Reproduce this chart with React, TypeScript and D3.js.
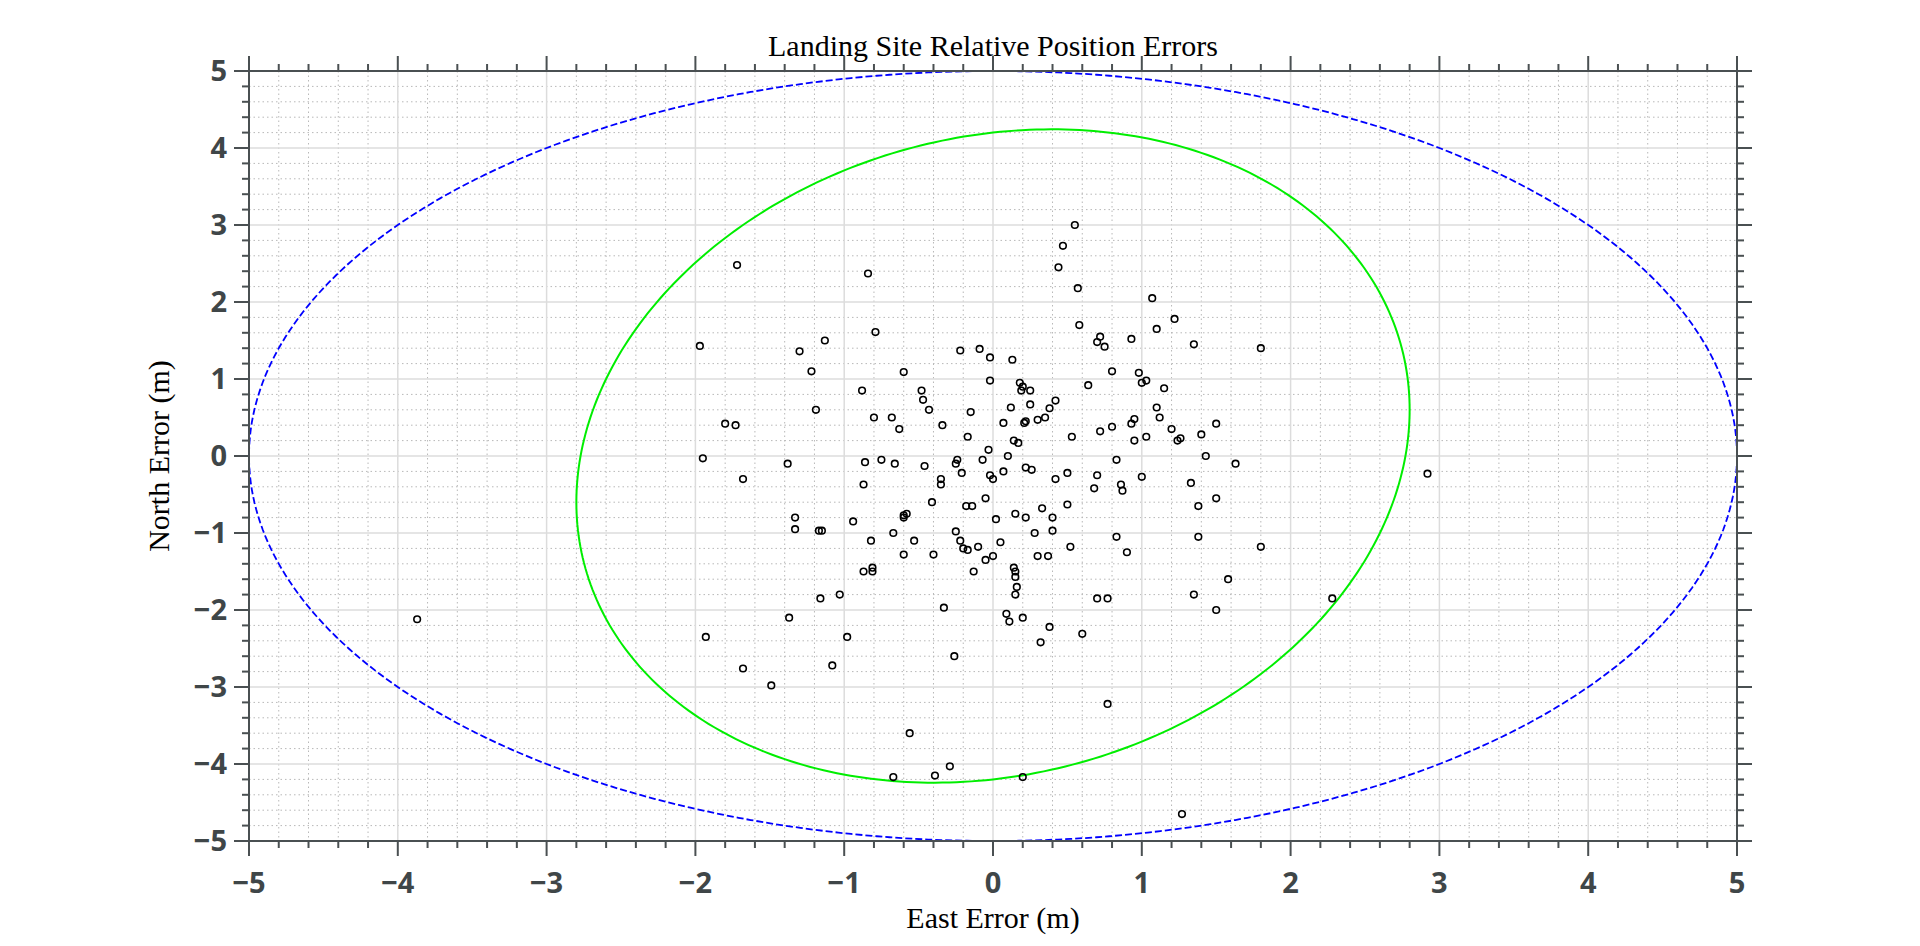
import React, { useEffect, useRef } from "react";
import * as d3 from "d3";

// landing points [east, north] in metres
const points: [number, number][] = [
  [-3.87, -2.12], [-1.97, 1.43], [-1.95, -0.03], [-1.93, -2.35], [-1.8, 0.42], [-1.73, 0.4],
  [-1.72, 2.48], [-1.68, -0.3], [-1.68, -2.76], [-1.49, -2.98], [-1.38, -0.1], [-1.37, -2.1],
  [-1.33, -0.8], [-1.33, -0.95], [-1.3, 1.36], [-1.22, 1.1], [-1.19, 0.6], [-1.17, -0.97],
  [-1.15, -0.97], [-1.16, -1.85], [-1.13, 1.5], [-1.08, -2.72], [-1.03, -1.8], [-0.98, -2.35],
  [-0.94, -0.85], [-0.88, 0.85], [-0.86, -0.08], [-0.87, -0.37], [-0.87, -1.5], [-0.84, 2.37],
  [-0.82, -1.1], [-0.81, -1.45], [-0.81, -1.5], [-0.79, 1.61], [-0.8, 0.5], [-0.75, -0.05],
  [-0.68, 0.5], [-0.67, -1.0], [-0.67, -4.17], [-0.66, -0.1], [-0.63, 0.35], [-0.6, 1.09],
  [-0.6, -0.77], [-0.6, -0.8], [-0.58, -0.75], [-0.6, -1.28], [-0.56, -3.6], [-0.53, -1.1],
  [-0.48, 0.85], [-0.47, 0.73], [-0.46, -0.13], [-0.43, 0.6], [-0.4, -1.28], [-0.41, -0.6],
  [-0.39, -4.15], [-0.35, -0.3], [-0.35, -0.37], [-0.34, 0.4], [-0.33, -1.97], [-0.29, -4.03],
  [-0.26, -2.6], [-0.25, -0.1], [-0.25, -0.98], [-0.24, -0.05], [-0.22, 1.37], [-0.22, -1.1],
  [-0.21, -0.22], [-0.2, -1.2], [-0.18, -0.65], [-0.17, 0.25], [-0.17, -1.22], [-0.15, 0.57],
  [-0.14, -0.65], [-0.13, -1.5], [-0.1, -1.18], [-0.09, 1.39], [-0.07, -0.05], [-0.05, -0.55],
  [-0.05, -1.35], [-0.03, 0.08], [-0.02, 1.28], [-0.02, 0.98], [0.0, -1.3], [0.0, -0.3],
  [-0.02, -0.25], [0.02, -0.82], [0.05, -1.12], [0.07, -0.2], [0.07, 0.43], [0.09, -2.05],
  [0.1, 0.0], [0.11, -2.15], [0.12, 0.63], [0.13, 1.25], [0.14, 0.2], [0.15, -0.75],
  [0.14, -1.45], [0.15, -1.5], [0.15, -1.57], [0.16, -1.7], [0.15, -1.8], [0.17, 0.17],
  [0.18, 0.95], [0.19, 0.85], [0.2, 0.9], [0.2, -2.1], [0.2, -4.17], [0.21, 0.43],
  [0.22, -0.8], [0.22, 0.45], [0.22, -0.15], [0.25, 0.85], [0.26, -0.18], [0.25, 0.67],
  [0.28, -1.0], [0.3, -1.3], [0.3, 0.47], [0.32, -2.42], [0.33, -0.68], [0.35, 0.5],
  [0.37, -1.3], [0.38, -2.22], [0.38, 0.62], [0.4, -0.97], [0.4, -0.8], [0.42, -0.3],
  [0.42, 0.72], [0.44, 2.45], [0.47, 2.73], [0.5, -0.22], [0.5, -0.63], [0.52, -1.18],
  [0.53, 0.25], [0.55, 3.0], [0.57, 2.18], [0.58, 1.7], [0.6, -2.31], [0.64, 0.92],
  [0.68, -0.42], [0.7, 1.48], [0.7, -1.85], [0.7, -0.25], [0.72, 1.55], [0.72, 0.32],
  [0.75, 1.42], [0.77, -1.85], [0.77, -3.22], [0.8, 0.38], [0.8, 1.1], [0.83, -0.05],
  [0.83, -1.05], [0.86, -0.37], [0.87, -0.45], [0.9, -1.25], [0.93, 0.42], [0.93, 1.52],
  [0.95, 0.48], [0.95, 0.2], [0.98, 1.08], [1.0, 0.95], [1.0, -0.27], [1.03, 0.25],
  [1.03, 0.98], [1.07, 2.05], [1.1, 0.63], [1.1, 1.65], [1.12, 0.5], [1.15, 0.88],
  [1.2, 0.35], [1.22, 1.78], [1.24, 0.2], [1.26, 0.23], [1.27, -4.65], [1.33, -0.35],
  [1.35, 1.45], [1.35, -1.8], [1.38, -0.65], [1.38, -1.05], [1.4, 0.28], [1.43, 0.0],
  [1.5, 0.42], [1.5, -0.55], [1.5, -2.0], [1.58, -1.6], [1.63, -0.1], [1.8, 1.4],
  [1.8, -1.18], [2.28, -1.85], [2.92, -0.23],
];

// required circle (blue) and error ellipse (green) as [xx, xy, yx, yy] matrix
const requirementRadius = 5;
const ellipseMatrix = [2.8, 0.0, 0.6, 4.2];

const majorTicks = d3.range(-5, 5.01, 1);
const minorTicks = d3.range(-5, 5.01, 0.2).filter((v) => Math.abs(v - Math.round(v)) > 0.01);

const App: React.FC = () => {
  const svgRef = useRef<SVGSVGElement | null>(null);

  useEffect(() => {
    const width = 1904;
    const height = 930;
    const margin = { top: 63, right: 175, bottom: 97, left: 241 };
    const axisColor = "#4a5052";

    const x = d3.scaleLinear().domain([-5, 5]).range([margin.left, width - margin.right]);
    const y = d3.scaleLinear().domain([-5, 5]).range([height - margin.bottom, margin.top]);

    const svg = d3.select(svgRef.current).attr("width", width).attr("height", height);
    svg.selectAll("*").remove();

    const x0 = x(-5), x1 = x(5), y0 = y(-5), y1 = y(5);
    const grid = svg.append("g");

    // minor grid
    grid.selectAll(".mx").data(minorTicks).enter().append("line")
      .attr("x1", (d) => x(d)).attr("x2", (d) => x(d)).attr("y1", y1).attr("y2", y0)
      .attr("stroke", "#b8b8b8").attr("stroke-width", 1).attr("stroke-dasharray", "1.5,3");
    grid.selectAll(".my").data(minorTicks).enter().append("line")
      .attr("y1", (d) => y(d)).attr("y2", (d) => y(d)).attr("x1", x0).attr("x2", x1)
      .attr("stroke", "#b8b8b8").attr("stroke-width", 1).attr("stroke-dasharray", "1.5,3");
    // major grid
    grid.selectAll(".Mx").data(majorTicks).enter().append("line")
      .attr("x1", (d) => x(d)).attr("x2", (d) => x(d)).attr("y1", y1).attr("y2", y0)
      .attr("stroke", "#dcdcdc").attr("stroke-width", 1.5);
    grid.selectAll(".My").data(majorTicks).enter().append("line")
      .attr("y1", (d) => y(d)).attr("y2", (d) => y(d)).attr("x1", x0).attr("x2", x1)
      .attr("stroke", "#dcdcdc").attr("stroke-width", 1.5);

    // ellipses
    const ts = d3.range(0, 2 * Math.PI + 0.001, Math.PI / 180);
    const line = d3.line<[number, number]>().x((d) => x(d[0])).y((d) => y(d[1]));
    svg.append("path")
      .attr("d", line(ts.map((t) => [requirementRadius * Math.cos(t), requirementRadius * Math.sin(t)])))
      .attr("fill", "none").attr("stroke", "#0000ff").attr("stroke-width", 1.8)
      .attr("stroke-dasharray", "7,3");
    const [a, b, c, e] = ellipseMatrix;
    svg.append("path")
      .attr("d", line(ts.map((t) => [a * Math.cos(t) + b * Math.sin(t), c * Math.cos(t) + e * Math.sin(t)])))
      .attr("fill", "none").attr("stroke", "#00ee00").attr("stroke-width", 2);

    // points
    svg.append("g").selectAll("circle").data(points).enter().append("circle")
      .attr("cx", (d) => x(d[0])).attr("cy", (d) => y(d[1])).attr("r", 3.3)
      .attr("fill", "none").attr("stroke", "black").attr("stroke-width", 1.6);

    // axes, ticks outward on all sides
    const ax = svg.append("g").attr("stroke", axisColor).attr("stroke-width", 2);
    ax.append("rect").attr("x", x0).attr("y", y1).attr("width", x1 - x0).attr("height", y0 - y1)
      .attr("fill", "none");
    const tick = (vals: number[], len: number) => {
      vals.forEach((v) => {
        ax.append("line").attr("x1", x(v)).attr("x2", x(v)).attr("y1", y0).attr("y2", y0 + len);
        ax.append("line").attr("x1", x(v)).attr("x2", x(v)).attr("y1", y1).attr("y2", y1 - len);
        ax.append("line").attr("y1", y(v)).attr("y2", y(v)).attr("x1", x0).attr("x2", x0 - len);
        ax.append("line").attr("y1", y(v)).attr("y2", y(v)).attr("x1", x1).attr("x2", x1 + len);
      });
    };
    tick(majorTicks, 15);
    tick(minorTicks, 7);

    const fmt = (v: number) => (v < 0 ? "\u2212" + Math.abs(v) : String(v));
    const tl = svg.append("g").attr("fill", "#3f4648").style("font-family", "'Open Sans', sans-serif")
      .style("font-weight", "bold").style("font-size", "29px");
    majorTicks.forEach((v) => {
      tl.append("text").attr("x", x(v)).attr("y", y0 + 52).attr("text-anchor", "middle").text(fmt(v));
      tl.append("text").attr("x", x0 - 22).attr("y", y(v) + 10).attr("text-anchor", "end").text(fmt(v));
    });

    const serif = "'Liberation Serif', 'Times New Roman', serif";
    svg.append("text").attr("x", (x0 + x1) / 2).attr("y", 48).attr("text-anchor", "middle")
      .style("font-family", serif).style("font-size", "30px").text("Landing Site Relative Position Errors");
    svg.append("text").attr("x", (x0 + x1) / 2).attr("y", 920).attr("text-anchor", "middle")
      .style("font-family", serif).style("font-size", "30px").text("East Error (m)");
    svg.append("text").attr("transform", `translate(161,${(y0 + y1) / 2}) rotate(-90)`)
      .attr("text-anchor", "middle").style("font-family", serif).style("font-size", "30px")
      .text("North Error (m)");
  }, []);

  return <svg ref={svgRef}></svg>;
};

export default App;
